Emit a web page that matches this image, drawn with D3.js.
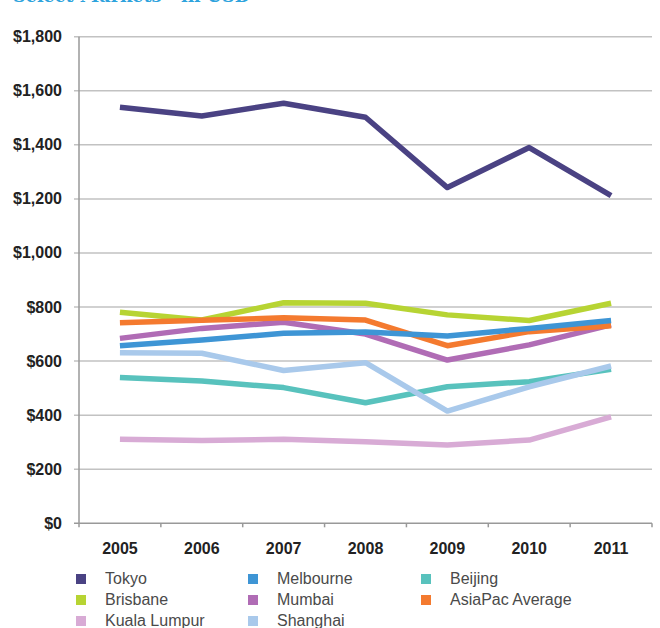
<!DOCTYPE html>
<html>
<head>
<meta charset="utf-8">
<script src="https://cdn.jsdelivr.net/npm/d3@7"></script>
<style>
  body { margin: 0; background: #fff; }
  svg { display: block; font-family: "Liberation Sans", Arial, sans-serif; }
</style>
</head>
<body>
<div id="chart"></div>
<script>
// years on the x axis
var years = ["2005", "2006", "2007", "2008", "2009", "2010", "2011"];
var yTicks = [0, 200, 400, 600, 800, 1000, 1200, 1400, 1600, 1800];

// rents per market, USD
var tokyo = [1539, 1507, 1554, 1502, 1242, 1390, 1212];
var brisbane = [781, 752, 816, 814, 771, 750, 814];
var kualaLumpur = [311, 306, 311, 302, 290, 308, 394];
var melbourne = [657, 678, 703, 708, 693, 721, 750];
var mumbai = [684, 721, 744, 700, 604, 660, 734];
var shanghai = [631, 629, 565, 594, 415, 505, 582];
var beijing = [539, 526, 502, 446, 505, 524, 570];
var asiaPac = [742, 751, 760, 752, 657, 709, 731];

// legend order (column by column)
var series = [
  {name: "Tokyo", values: tokyo, color: "#4a4283"},
  {name: "Brisbane", values: brisbane, color: "#b7d433"},
  {name: "Kuala Lumpur", values: kualaLumpur, color: "#d8abd5"},
  {name: "Melbourne", values: melbourne, color: "#3e95d5"},
  {name: "Mumbai", values: mumbai, color: "#b06cb5"},
  {name: "Shanghai", values: shanghai, color: "#a9c9eb"},
  {name: "Beijing", values: beijing, color: "#58c2bd"},
  {name: "AsiaPac Average", values: asiaPac, color: "#f47a2f"}
];
// which order the lines get painted in
var drawOrder = ["Kuala Lumpur", "Beijing", "Shanghai", "Mumbai", "Brisbane", "AsiaPac Average", "Melbourne", "Tokyo"];

var width = 660, height = 628;
var svg = d3.select("#chart").append("svg").attr("width", width).attr("height", height);

var x = d3.scaleBand().domain(years).range([79, 652]).padding(0);
var y = d3.scaleLinear().domain([0, 1800]).range([523.3, 36.7]);

// cut off title at the very top
svg.append("text")
  .attr("x", 13).attr("y", 1.5)
  .attr("textLength", 237).attr("lengthAdjust", "spacingAndGlyphs")
  .attr("font-family", "'DejaVu Serif', serif").attr("font-weight", "bold")
  .attr("font-size", "19px").attr("fill", "#2ea3dd")
  .text("Select Markets - in USD");

// gridlines + y labels
svg.selectAll(".grid").data(yTicks.slice(1)).enter().append("line")
  .attr("class", "grid")
  .attr("x1", 74).attr("x2", 652)
  .attr("y1", function(d) { return y(d); }).attr("y2", function(d) { return y(d); })
  .attr("stroke", "#c2c2c2").attr("stroke-width", 1.5);

svg.selectAll(".ylab").data(yTicks).enter().append("text")
  .attr("class", "ylab")
  .attr("x", 62).attr("y", function(d) { return y(d) + 5.5; })
  .attr("text-anchor", "end").attr("font-size", "16px").attr("font-weight", "bold")
  .attr("fill", "#222")
  .text(function(d) { return "$" + d3.format(",")(d); });

// axes
svg.append("line").attr("x1", 79).attr("x2", 79).attr("y1", y(1800)).attr("y2", y(0))
  .attr("stroke", "#999").attr("stroke-width", 1.5);
svg.append("line").attr("x1", 74).attr("x2", 652).attr("y1", y(0)).attr("y2", y(0))
  .attr("stroke", "#999").attr("stroke-width", 1.5);

var edges = years.map(function(d) { return x(d); }).concat([x.range()[1]]);
svg.selectAll(".xtick").data(edges).enter().append("line")
  .attr("class", "xtick")
  .attr("x1", function(d) { return d; }).attr("x2", function(d) { return d; })
  .attr("y1", y(0)).attr("y2", y(0) + 4)
  .attr("stroke", "#999").attr("stroke-width", 1.5);

svg.selectAll(".xlab").data(years).enter().append("text")
  .attr("class", "xlab")
  .attr("x", function(d) { return x(d) + x.bandwidth() / 2; }).attr("y", 554)
  .attr("text-anchor", "middle").attr("font-size", "16px").attr("font-weight", "bold")
  .attr("fill", "#222")
  .text(function(d) { return d; });

// lines
var line = d3.line()
  .x(function(d, i) { return x(years[i]) + x.bandwidth() / 2; })
  .y(function(d) { return y(d); });

drawOrder.forEach(function(name) {
  var s = series.find(function(d) { return d.name === name; });
  svg.append("path").datum(s.values)
    .attr("d", line)
    .attr("fill", "none").attr("stroke", s.color)
    .attr("stroke-width", 5.5).attr("stroke-linejoin", "round");
});

// legend, 3 rows per column
var colX = [76, 248, 421];
var rowY = [584, 605, 626];
var legend = svg.append("g");
series.forEach(function(s, i) {
  var cx = colX[Math.floor(i / 3)], cy = rowY[i % 3];
  legend.append("rect").attr("x", cx).attr("y", cy - 10).attr("width", 10).attr("height", 10).attr("fill", s.color);
  legend.append("text").attr("x", cx + 29).attr("y", cy)
    .attr("font-size", "16px").attr("fill", "#4a4a4a").text(s.name);
});
</script>
</body>
</html>
